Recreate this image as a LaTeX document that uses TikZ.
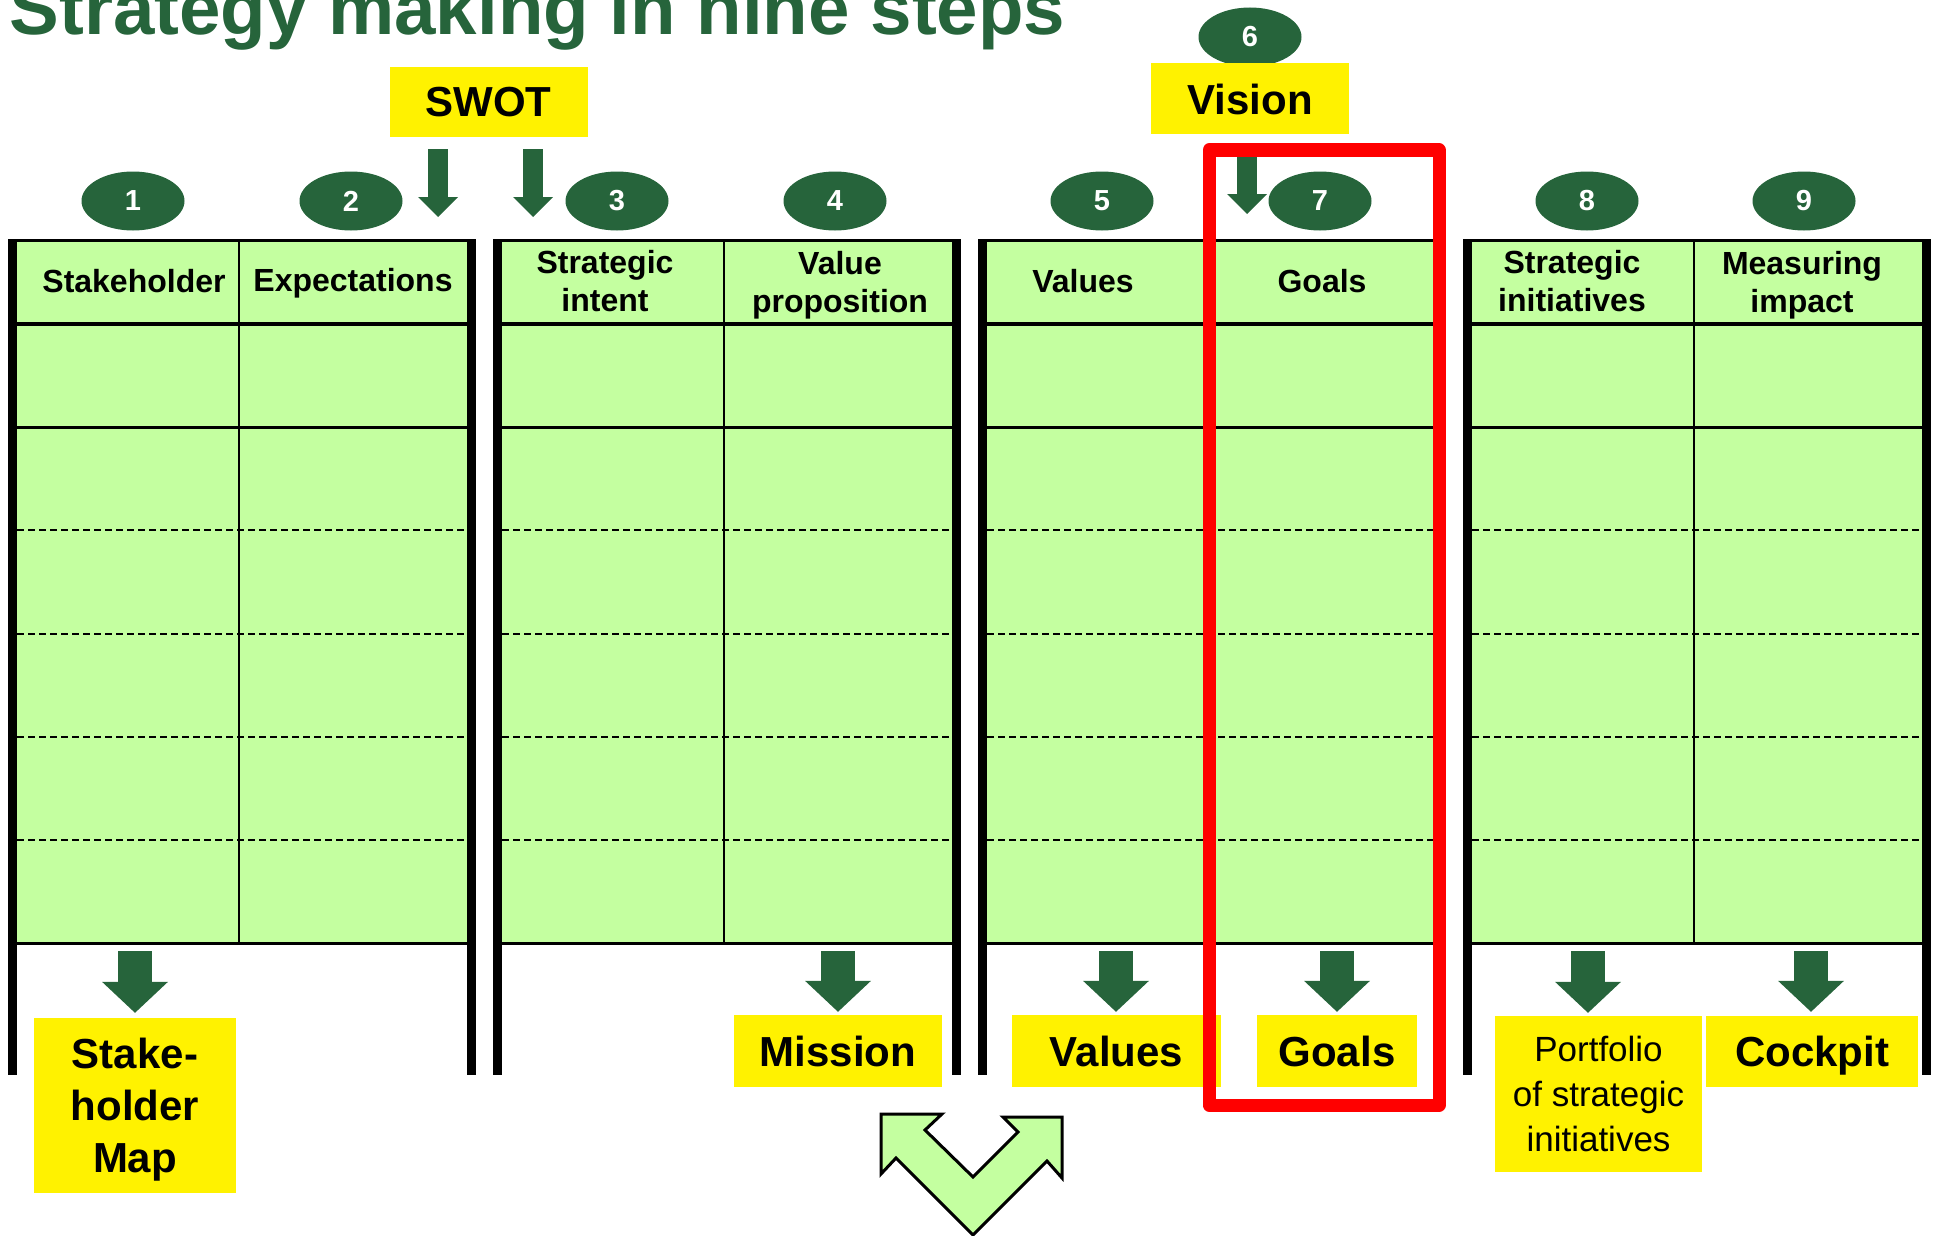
\documentclass[tikz,border=0pt]{standalone}
\usepackage{fontspec}
\setmainfont{Liberation Sans}
\usetikzlibrary{shapes.geometric, arrows.meta}

\definecolor{darkgreen}{RGB}{38,100,59}
\definecolor{palegreen}{RGB}{196,255,160}

\begin{document}
\begin{tikzpicture}[x=1pt, y=-1pt, line join=miter,
  num/.style={ellipse, fill=darkgreen, text=white, minimum width=103pt, minimum height=59pt, inner sep=0pt, font=\fontsize{29}{30}\selectfont\bfseries},
  head/.style={align=center, font=\fontsize{32}{38}\selectfont\bfseries},
  ybox/.style={fill=yellow, align=center, inner sep=0pt, font=\fontsize{42}{52}\selectfont\bfseries},
  bigarrow/.style={draw=darkgreen, line width=34pt, -{Triangle[width=66pt, length=31pt, line width=0pt]}},
  smallarrow/.style={draw=darkgreen, line width=20pt, -{Triangle[width=40pt, length=20pt, line width=0pt]}}
]

\useasboundingbox (0,0) rectangle (1935,1236);

% Title
\node[anchor=base west, text=darkgreen, font=\fontsize{74.5}{78}\selectfont\bfseries] (title) at (6,35) {Strategy making in nine steps};

% Four tables: fill, rows, divider and side bars
\foreach \x in {8,493,978,1463} {
  \fill[palegreen] (\x+9,239) rectangle (\x+459,943);
  \draw[line width=3pt] (\x+9,240.5) -- (\x+459,240.5);
  \draw[line width=4pt] (\x+9,324) -- (\x+459,324);
  \draw[line width=3pt] (\x+9,427) -- (\x+459,427);
  \foreach \y in {530,634,737,840}
    \draw[line width=2pt, dash pattern=on 7pt off 4pt] (\x+9,\y) -- (\x+459,\y);
  \draw[line width=3pt] (\x+9,943) -- (\x+459,943);
  \draw[line width=2.5pt] (\x+231,239) -- (\x+231,943);
  \fill (\x,239) rectangle (\x+9,1075);
  \fill (\x+459,239) rectangle (\x+468,1075);
}

% Column headings
\node[head] (h1) at (134,281) {Stakeholder};
\node[head] (h2) at (353,283) {Expectations};
\node[head] (h3) at (605,281) {Strategic\\intent};
\node[head] (h4) at (840,285) {Value\\proposition};
\node[head] (h5) at (1083,281) {Values};
\node[head] (h6) at (1322,281) {Goals};
\node[head] (h7) at (1572,281) {Strategic\\initiatives};
\node[head] (h8) at (1802,285) {Measuring\\impact};

% Step numbers
\node[num] (n1) at (133,201) {1};
\node[num] (n2) at (351,201) {2};
\node[num] (n3) at (617,201) {3};
\node[num] (n4) at (835,201) {4};
\node[num] (n5) at (1102,201) {5};
\node[num] (n6) at (1250,37) {6};
\node[num] (n7) at (1320,201) {7};
\node[num] (n8) at (1587,201) {8};
\node[num] (n9) at (1804,201) {9};

% Inputs on top
\node[ybox, minimum width=198pt, minimum height=70pt] (swot) at (488.5,102) {SWOT};
\node[ybox, minimum width=198pt, minimum height=71pt] (vision) at (1250,99) {Vision};

\coordinate (s1) at (438,217);
\coordinate (s2) at (533,217);
\coordinate (v1) at (1247,214);
\draw[smallarrow, shorten <=12pt] (swot.south -| s1) -- (s1);
\draw[smallarrow, shorten <=12pt] (swot.south -| s2) -- (s2);
\draw[smallarrow, shorten <=10pt] (vision.south -| v1) -- (v1);

% Results below the tables
\node[ybox, minimum width=202pt, minimum height=175pt] (map) at (135,1105.5) {Stake-\\holder\\\smash{Map}};
\node[ybox, minimum width=208pt, minimum height=72pt] (mission) at (838,1051) {Mission};
\node[ybox, minimum width=209pt, minimum height=72pt] (values) at (1116.5,1051) {Values};
\node[ybox, minimum width=160pt, minimum height=72pt] (goals) at (1337,1051) {Goals};
\node[ybox, minimum width=207pt, minimum height=156pt, font=\fontsize{35}{45}\selectfont] (portfolio) at (1598.5,1094) {Portfolio\\of strategic\\initiatives};
\node[ybox, minimum width=212pt, minimum height=71pt, text depth=0pt] (cockpit) at (1812,1051.5) {Cockpit};

\coordinate (b1) at (135,951);
\coordinate (b2) at (838,951);
\coordinate (b3) at (1116,951);
\coordinate (b4) at (1337,951);
\coordinate (b5) at (1588,951);
\coordinate (b6) at (1811,951);
\draw[bigarrow, shorten >=5pt] (b1) -- (b1 |- map.north);
\draw[bigarrow, shorten >=3pt] (b2) -- (b2 |- mission.north);
\draw[bigarrow, shorten >=3pt] (b3) -- (b3 |- values.north);
\draw[bigarrow, shorten >=3pt] (b4) -- (b4 |- goals.north);
\draw[bigarrow, shorten >=3pt] (b5) -- (b5 |- portfolio.north);
\draw[bigarrow, shorten >=4pt] (b6) -- (b6 |- cockpit.north);

% Double arrow at the bottom
\draw[line width=3pt, fill=palegreen] (881,1114) -- (942,1114) -- (925,1130) -- (973,1177)
  -- (1018,1132) -- (1003,1117) -- (1062,1117) -- (1062,1178) -- (1047,1161)
  -- (973,1235) -- (896,1158) -- (881,1174) -- cycle;

% Highlight of the goals column
\draw[red, line width=13pt, line join=round] (1209,150) rectangle (1439,1105);

\end{tikzpicture}
\end{document}
